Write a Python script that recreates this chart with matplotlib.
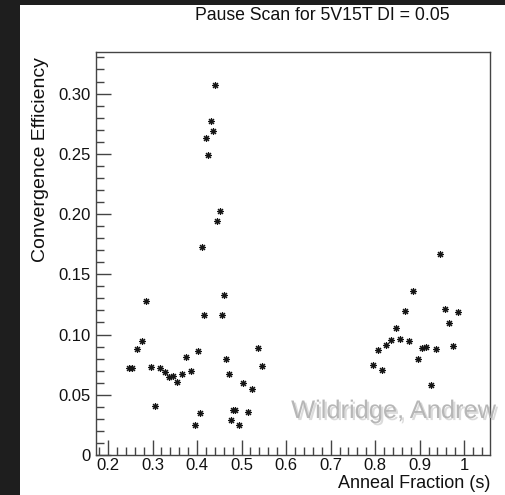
import matplotlib
matplotlib.use("Agg")
import matplotlib.pyplot as plt
import matplotlib.patheffects as pe
from matplotlib.patches import Rectangle
from matplotlib.ticker import MultipleLocator, FuncFormatter

plt.rcParams['font.family'] = ['Liberation Sans', 'DejaVu Sans']

# anneal fraction (s) and convergence efficiency
anneal = [0.248, 0.254, 0.265, 0.276, 0.285, 0.296, 0.306, 0.316, 0.327, 0.336,
          0.345, 0.355, 0.366, 0.375, 0.3865, 0.396, 0.402, 0.407, 0.411, 0.4157,
          0.4195, 0.4254, 0.431, 0.4367, 0.440, 0.4456, 0.451, 0.456, 0.461, 0.465,
          0.471, 0.476, 0.481, 0.485, 0.495, 0.504, 0.515, 0.524, 0.536, 0.546]
efficiency = [0.072, 0.072, 0.088, 0.095, 0.128, 0.073, 0.041, 0.0725, 0.069, 0.0645,
              0.0655, 0.0605, 0.067, 0.0814, 0.070, 0.0247, 0.0864, 0.0347, 0.1725, 0.116,
              0.263, 0.2494, 0.277, 0.2689, 0.3067, 0.1944, 0.2028, 0.116, 0.1328, 0.080,
              0.0675, 0.029, 0.037, 0.037, 0.0247, 0.060, 0.0356, 0.0544, 0.0889, 0.0739]

anneal_hi = [0.796, 0.806, 0.8165, 0.8254, 0.835, 0.846, 0.855, 0.866, 0.8755, 0.886,
             0.8966, 0.9056, 0.915, 0.925, 0.936, 0.945, 0.956, 0.966, 0.976, 0.986]
efficiency_hi = [0.0744, 0.0875, 0.0706, 0.0911, 0.0958, 0.105, 0.0964, 0.1194, 0.0947, 0.1358,
                 0.080, 0.0886, 0.0894, 0.058, 0.088, 0.1667, 0.1208, 0.1097, 0.0906, 0.119]

W, H = 505, 495
fig = plt.figure(figsize=(W / 100, H / 100), dpi=100, facecolor='#1e1e1e')
# white canvas (dark strip left and top like the screenshot)
fig.patches.append(Rectangle((20 / W, 0), 1 - 20 / W, 1 - 5 / H, transform=fig.transFigure,
                             facecolor='white', edgecolor='none', zorder=-10))

ax = fig.add_axes([96 / W, (H - 455) / H, (490 - 96) / W, (455 - 52) / H])
ax.set_xlim(0.173, 1.058)
ax.set_ylim(0, 0.3345)

ax.plot(anneal + anneal_hi, efficiency + efficiency_hi, linestyle='none',
        marker=(8, 2, 0), markersize=5, markeredgewidth=0.8, color='#151515')

for s in ax.spines.values():
    s.set_color('#444444')
    s.set_linewidth(1.0)

ax.xaxis.set_major_locator(MultipleLocator(0.1))
ax.xaxis.set_minor_locator(MultipleLocator(0.02))
ax.yaxis.set_major_locator(MultipleLocator(0.05))
ax.yaxis.set_minor_locator(MultipleLocator(0.01))


def xfmt(v, pos):
    if abs(v - round(v)) < 1e-9:
        return '%d' % round(v)
    return '%.1f' % v


def yfmt(v, pos):
    if abs(v) < 1e-9:
        return '0'
    return '%.2f' % v


ax.xaxis.set_major_formatter(FuncFormatter(xfmt))
ax.yaxis.set_major_formatter(FuncFormatter(yfmt))
ax.tick_params(which='both', direction='in', color='#444444', width=1.0,
               top=False, right=False, labelsize=12, labelcolor='#111111')
ax.tick_params(which='major', length=11)
ax.tick_params(which='minor', length=5.5)
ax.tick_params(axis='x', pad=2)
ax.tick_params(axis='y', pad=4)

fig.text(322 / W, 1 - 16 / H, 'Pause Scan for 5V15T DI = 0.05', ha='center', va='center',
         fontsize=12.7, color='#111111')
fig.text(41 / W, 1 - 57 / H, 'Convergence Efficiency', rotation=90, ha='center', va='top',
         fontsize=14, color='#111111')
fig.text(490 / W, 1 - 483 / H, 'Anneal Fraction (s)', ha='right', va='center',
         fontsize=13, color='#111111')

# watermark
fig.text(394 / W, 1 - 411 / H, 'Wildridge, Andrew', ha='center', va='center',
         fontsize=18.3, color='#b0b0b0', alpha=0.9,
         path_effects=[pe.withSimplePatchShadow(offset=(1.5, -1.5), shadow_rgbFace='#888888', alpha=0.3)])

fig.savefig('out.png', dpi=100, facecolor=fig.get_facecolor())
